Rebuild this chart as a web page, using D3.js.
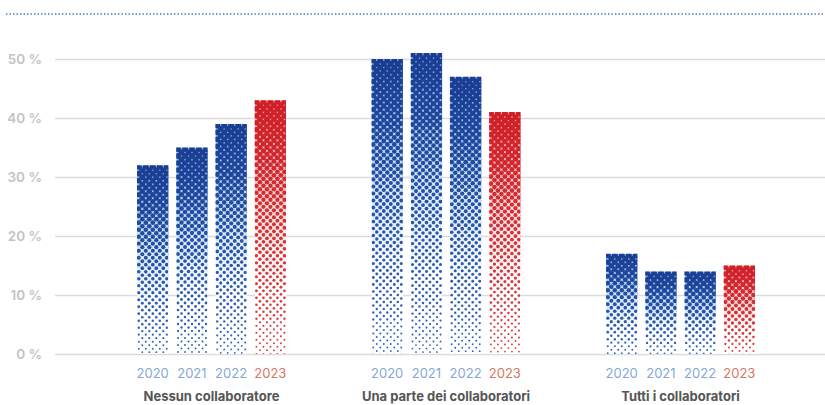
<!DOCTYPE html>
<html><head><meta charset="utf-8">
<script src="https://cdn.jsdelivr.net/npm/d3@7"></script>
<style>html,body{margin:0;padding:0;background:#fff;}svg{display:block;font-family:Inter,"Noto Sans",sans-serif;}</style>
</head><body>
<svg id="c" width="825" height="405"></svg>
<script>
const categories = ["Nessun collaboratore", "Una parte dei collaboratori", "Tutti i collaboratori"];
const years = ["2020", "2021", "2022", "2023"];
const values2020 = [32, 50, 17];
const values2021 = [35, 51, 14];
const values2022 = [39, 47, 14];
const values2023 = [43, 41, 15];
const yTicks = [0, 10, 20, 30, 40, 50];

const seriesByYear = {"2020": values2020, "2021": values2021, "2022": values2022, "2023": values2023};
const data = [];
categories.forEach((c, i) => years.forEach(yr => data.push({cat: c, year: yr, value: seriesByYear[yr][i]})));

const svg = d3.select("#c");
const W = 825, H = 405;
const y = d3.scaleLinear().domain([0, 50]).range([354, 59]);
const x0 = d3.scaleBand().domain(categories).range([94.25, 797.75]).padding(0);
const x1 = d3.scaleBand().domain(years).range([42.75, 191.75]).paddingInner(0.2).paddingOuter(0);

// top dotted rule
svg.append("line").attr("x1", 6).attr("x2", W).attr("y1", 14).attr("y2", 14)
  .attr("stroke", "#3a78c9").attr("stroke-width", 1.6).attr("stroke-dasharray", "1.4,2.1");

// grid
const yAxis = d3.axisLeft(y).tickValues(yTicks).tickSize(-(W - 55)).tickFormat(d => d + " %");
const gAxis = svg.append("g").attr("transform", "translate(55,0)").call(yAxis);
gAxis.select(".domain").remove();
gAxis.selectAll(".tick line").attr("stroke", "#dcdcdc").attr("stroke-width", 1.6);
gAxis.selectAll(".tick text").attr("x", -13).attr("fill", "#c3c3c3")
  .attr("font-size", 13.5).attr("font-weight", 600).attr("font-family", "Inter,sans-serif");

const defs = svg.append("defs");
const palettes = {
  blue: {bgTop: "#7fb8ee", bgMid: "#d6e8f8", dotTop: "#1b3d92", dotBot: "#3468bf"},
  red:  {bgTop: "#f0a0a0", bgMid: "#fbe2e2", dotTop: "#cf1f28", dotBot: "#dc4444"}
};
Object.entries(palettes).forEach(([k, p]) => {
  const g = defs.append("linearGradient").attr("id", "bg-" + k).attr("x1", 0).attr("x2", 0).attr("y1", 0).attr("y2", 1);
  g.append("stop").attr("offset", "0%").attr("stop-color", p.bgTop);
  g.append("stop").attr("offset", "45%").attr("stop-color", p.bgMid);
  g.append("stop").attr("offset", "75%").attr("stop-color", "#ffffff");
});

const bars = svg.append("g");
data.forEach((d, i) => {
  const bx = x0(d.cat) + x1(d.year), bw = x1.bandwidth();
  const by = y(d.value), bh = y(0) - y(d.value);
  const key = d.year === "2023" ? "red" : "blue";
  const p = palettes[key];
  const cid = "clip" + i;
  defs.append("clipPath").attr("id", cid).append("rect").attr("x", bx).attr("y", by).attr("width", bw).attr("height", bh);
  const g = bars.append("g").attr("clip-path", `url(#${cid})`);
  g.append("rect").attr("x", bx).attr("y", by).attr("width", bw).attr("height", bh).attr("fill", `url(#bg-${key})`);
  const ax = 7, ay = 3.5;
  const rS = d3.scaleLinear().domain([0, 1]).range([3.0, 0.9]);
  const cS = d3.interpolateRgb(p.dotTop, p.dotBot);
  const dots = [];
  let row = 0;
  for (let cy = by + 1.5; cy <= by + bh + 2; cy += ay, row++) {
    const off = (row % 2) ? ax / 2 : 0;
    for (let cx = bx + 1.8 + off; cx <= bx + bw + 2; cx += ax) {
      const t = Math.min(1, Math.max(0, (cy - by) / bh));
      dots.push({cx, cy, t});
    }
  }
  g.selectAll("circle").data(dots).join("circle")
    .attr("cx", e => e.cx).attr("cy", e => e.cy)
    .attr("r", e => rS(e.t)).attr("fill", e => cS(e.t));
});

// year labels
const yl = svg.append("g");
data.forEach(d => {
  yl.append("text").attr("x", x0(d.cat) + x1(d.year) + x1.bandwidth() / 2).attr("y", 378)
    .attr("text-anchor", "middle").attr("font-size", 13)
    .attr("fill", d.year === "2023" ? "#d97663" : "#86a6d9").text(d.year);
});
// category labels
svg.append("g").selectAll("text").data(categories).join("text")
  .attr("x", c => x0(c) + x0.bandwidth() / 2).attr("y", 401)
  .attr("text-anchor", "middle").attr("font-size", 13).attr("font-weight", 700)
  .attr("fill", "#555555").text(c => c);
</script>
</body></html>
